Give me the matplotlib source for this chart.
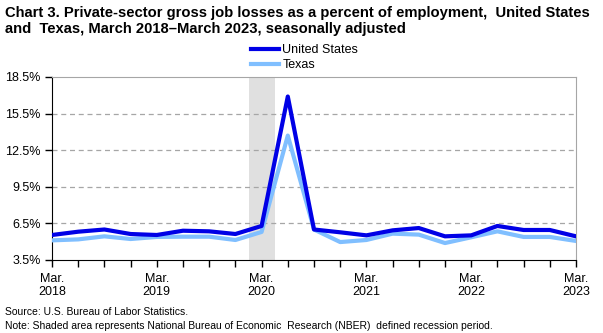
import matplotlib
matplotlib.use("Agg")
import matplotlib.pyplot as plt
from matplotlib.ticker import FixedLocator, FuncFormatter

plt.rcParams['font.family'] = ['Liberation Sans', 'DejaVu Sans']

quarters = list(range(21))  # March 2018 through March 2023, quarterly
united_states = [5.55, 5.82, 6.00, 5.63, 5.55, 5.90, 5.85, 5.63, 6.29, 16.9,
                 6.00, 5.77, 5.52, 5.93, 6.12, 5.44, 5.52, 6.29, 5.96, 5.96, 5.44]
texas = [5.11, 5.19, 5.44, 5.22, 5.39, 5.41, 5.41, 5.14, 5.80, 13.7,
         6.00, 4.97, 5.14, 5.66, 5.58, 4.89, 5.36, 5.85, 5.39, 5.39, 5.06]
year_labels = ["Mar.\n2018", "Mar.\n2019", "Mar.\n2020", "Mar.\n2021", "Mar.\n2022", "Mar.\n2023"]
y_ticks = [3.5, 6.5, 9.5, 12.5, 15.5, 18.5]
recession = (7.5, 8.5)

W, H = 603, 333
fig = plt.figure(figsize=(W / 100, H / 100), dpi=100)
ax = fig.add_axes([52 / W, 1 - 260 / H, 524 / W, 183 / H])

ax.axvspan(*recession, color="#e0e0e0", lw=0, zorder=0)
ax.plot(quarters, texas, color="#80bfff", lw=3, label="Texas", zorder=3)
ax.plot(quarters, united_states, color="#0000e6", lw=3, label="United States", zorder=4)

ax.set_xlim(0, 20)
ax.set_ylim(3.5, 18.5)
ax.xaxis.set_major_locator(FixedLocator([0, 4, 8, 12, 16, 20]))
ax.xaxis.set_minor_locator(FixedLocator(quarters))
ax.set_xticklabels(year_labels)
ax.yaxis.set_major_locator(FixedLocator(y_ticks))
ax.yaxis.set_major_formatter(FuncFormatter(lambda v, p: f"{v:.1f}%"))
for v in y_ticks[1:-1]:
    ax.axhline(v, color="#a6a6a6", lw=0.9, ls=(0, (4, 3)), zorder=1)

ax.tick_params(axis="x", which="both", length=5, width=1, color="black", direction="out",
               labelsize=9, pad=4)
ax.tick_params(axis="y", length=5, width=1, direction="out", labelsize=9, pad=3)
for s in ("top", "right"):
    ax.spines[s].set_color("#a6a6a6")
for s in ("left", "bottom"):
    ax.spines[s].set_color("black")

handles, labels = ax.get_legend_handles_labels()
fig.legend(handles[::-1], labels[::-1], loc="upper left", bbox_to_anchor=(251 / W, 1 - 44 / H),
           frameon=False, fontsize=9, handlelength=2.25, handletextpad=0.25, labelspacing=0.28,
           borderaxespad=0, borderpad=0)

fig.text(5 / W, 1 - 17 / H,
         "Chart 3. Private-sector gross job losses as a percent of employment,  United States",
         ha="left", va="baseline", fontsize=10.6, fontweight="bold")
fig.text(5 / W, 1 - 33 / H,
         "and  Texas, March 2018\u2013March 2023, seasonally adjusted",
         ha="left", va="baseline", fontsize=10.6, fontweight="bold")
fig.text(5 / W, 1 - 312 / H, "Source: U.S. Bureau of Labor Statistics.", fontsize=7.5, va="center")
fig.text(5 / W, 1 - 326 / H,
         "Note: Shaded area represents National Bureau of Economic  Research (NBER)  defined recession period.",
         fontsize=7.5, va="center")

fig.savefig("out.png", dpi=100)
